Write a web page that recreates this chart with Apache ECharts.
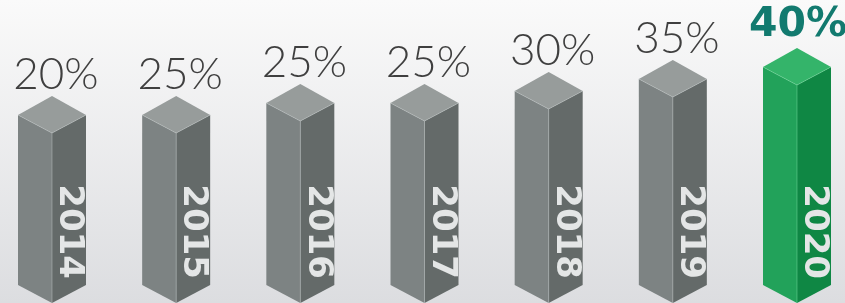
<!DOCTYPE html>
<html>
<head>
<meta charset="utf-8">
<script src="https://cdn.jsdelivr.net/npm/echarts@6/dist/echarts.min.js"></script>
<style>
  html, body { margin: 0; padding: 0; }
  #chart { width: 845px; height: 303px; }
</style>
</head>
<body>
<div id="chart"></div>
<script>
// years and the % printed above each column
const years = ['2014', '2015', '2016', '2017', '2018', '2019', '2020']
const pctLabels = [20, 25, 25, 25, 30, 35, 40]
// height each column is actually drawn at (same % scale)
const barHeights = [20, 20, 25, 25, 30, 35, 40]

const chart = echarts.init(document.getElementById('chart'))

const HALF = 34   // half width of a column
const RISE = 19   // iso offset of the top face corners
const DROP = 18   // corner -> front vertex

function renderColumn (params, api) {
  const i = api.value(0)
  const top = api.coord([i, api.value(1)])
  const base = api.coord([i, -50])
  const cx = top[0]
  const yt = top[1]
  const yb = base[1] + 21
  const last = i === years.length - 1
  const c = last
    ? { top: '#34b46a', left: '#22a25a', right: '#0f8744' }
    : { top: '#979c9b', left: '#7d8383', right: '#646a69' }
  const edge = last ? 'rgba(120,220,160,0.6)' : 'rgba(190,195,195,0.6)'
  const lbl = pctLabels[i] + '%'
  return {
    type: 'group',
    children: [
      {
        type: 'polygon',
        shape: { points: [[cx - HALF, yt + RISE], [cx, yt + RISE + DROP], [cx, yb + DROP], [cx - HALF, yb]] },
        style: { fill: c.left }
      },
      {
        type: 'polygon',
        shape: { points: [[cx, yt + RISE + DROP], [cx + HALF, yt + RISE], [cx + HALF, yb], [cx, yb + DROP]] },
        style: { fill: c.right }
      },
      {
        type: 'polygon',
        shape: { points: [[cx, yt], [cx + HALF, yt + RISE], [cx, yt + RISE + DROP], [cx - HALF, yt + RISE]] },
        style: { fill: c.top }
      },
      {
        type: 'polyline',
        shape: { points: [[cx - HALF, yt + RISE], [cx, yt + RISE + DROP], [cx + HALF, yt + RISE]] },
        style: { stroke: edge, lineWidth: 0.8, fill: null }
      },
      {
        type: 'line',
        shape: { x1: cx, y1: yt + RISE + DROP, x2: cx, y2: yb + DROP },
        style: { stroke: edge, lineWidth: 0.8 }
      },
      {
        type: 'text',
        x: cx + HALF / 2,
        y: 279,
        rotation: -Math.PI / 2,
        style: {
          text: years[i],
          fill: '#e4e6e6',
          font: 'bold 34px "DejaVu Sans"',
          align: 'right',
          verticalAlign: 'middle'
        }
      },
      {
        type: 'text',
        x: cx + (last ? 1 : 4),
        y: yt - 43,
        style: {
          text: lbl,
          fill: last ? '#127a6f' : '#3f3f3f',
          font: last ? 'bold 41px "DejaVu Sans"' : '300 44px Lato',
          align: 'center',
          verticalAlign: 'top'
        }
      }
    ]
  }
}

const option = {
  backgroundColor: new echarts.graphic.LinearGradient(0, 0, 0, 1, [
    { offset: 0, color: '#fafafa' },
    { offset: 1, color: '#dcdde0' }
  ]),
  animation: false,
  grid: { left: 52, right: 48, top: 24, bottom: 39 },
  xAxis: { type: 'value', min: 0, max: 6, show: false },
  yAxis: { type: 'value', min: -50, max: 50, show: false },
  series: [
    {
      type: 'custom',
      clip: false,
      renderItem: renderColumn,
      data: barHeights.map((v, i) => [i, v])
    }
  ]
}
chart.setOption(option)
</script>
</body>
</html>
